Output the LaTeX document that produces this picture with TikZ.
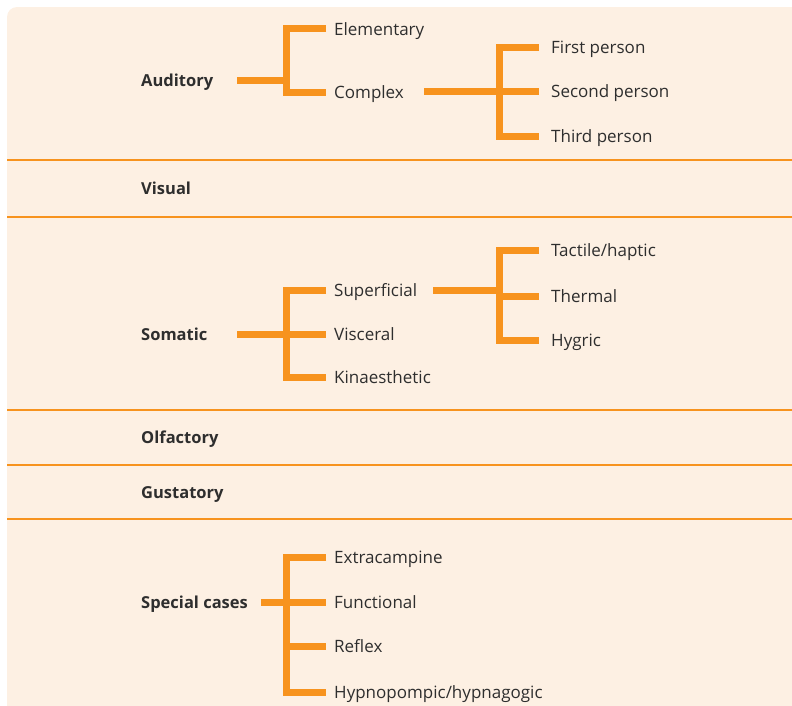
\documentclass[tikz,border=0pt]{standalone}
\usepackage{fontspec}
\setmainfont{Open Sans}
\definecolor{peach}{HTML}{FDF0E3}
\definecolor{tangerine}{HTML}{F7931E}
\definecolor{ink}{HTML}{2E2E2E}
\begin{document}
\begin{tikzpicture}[x=1pt,y=-1pt,
   head/.style={anchor=west,inner sep=0,text height=12pt,text depth=0pt,font=\fontsize{16.5}{18}\selectfont\bfseries,text=ink},
   item/.style={anchor=west,inner sep=0,text height=12pt,text depth=0pt,font=\fontsize{17}{19}\selectfont,text=ink},
   bracket/.style={draw=tangerine,line width=7pt,line join=miter},
   rule/.style={draw=tangerine,line width=1.8pt}]
   \useasboundingbox (0,0) rectangle (792,705);
   % Panel
   \clip (0,0) rectangle (792,705);
   \fill[peach,rounded corners=10pt] (7,7) rectangle (820,730);
   % Separators
   \foreach \y in {160,217,410,465,519}
      \draw[rule] (7,\y) -- (792,\y);
   % Auditory
   \node[head] (aud)  at (141,80) {Auditory};
   \node[item] (elem) at (334,29.5) {Elementary};
   \node[item] (cplx) at (334,92) {Complex};
   \node[item] (fst)  at (551,47) {First person};
   \node[item] (sec)  at (551,91.5) {Second person};
   \node[item] (thd)  at (551,136.5) {Third person};
   \coordinate (auds)  at (237,80);
   \coordinate (audj)  at (286,80);
   \coordinate (cplxs) at (424,91.5);
   \coordinate (cplxj) at (499.5,91.5);
   \draw[bracket] (auds) -- (audj);
   \draw[bracket] ([xshift=-8pt,yshift=1.5pt]elem.west) -| (audj) |- ([xshift=-8pt]cplx.west);
   \draw[bracket] (cplxs) -- ([xshift=-12pt]sec.west);
   \draw[bracket] ([xshift=-12pt]fst.west) -| (cplxj) |- ([xshift=-12pt]thd.west);
   % Visual
   \node[head] (vis) at (141,188.5) {Visual};
   % Somatic
   \node[head] (som)  at (141,334.5) {Somatic};
   \node[item] (supf) at (334,290.5) {Superficial};
   \node[item] (visc) at (334,334.5) {Visceral};
   \node[item] (kin)  at (334,377) {Kinaesthetic};
   \node[item] (tac)  at (551,250.5) {Tactile/haptic};
   \node[item] (thm)  at (551,296.5) {Thermal};
   \node[item] (hyg)  at (551,340.5) {Hygric};
   \coordinate (soms)  at (237,334.5);
   \coordinate (somj)  at (286,334.5);
   \coordinate (supfs) at (433,290);
   \coordinate (supfj) at (499.5,290);
   \draw[bracket] (soms) -- ([xshift=-8pt]visc.west);
   \draw[bracket] ([xshift=-8pt]supf.west) -| (somj) |- ([xshift=-8pt]kin.west);
   \draw[bracket] (supfs) -- (supfj);
   \draw[bracket] ([xshift=-12pt]tac.west) -| (supfj) |- ([xshift=-12pt]hyg.west);
   \draw[bracket] (supfj |- thm.west) -- ([xshift=-12pt]thm.west);
   % Olfactory, Gustatory
   \node[head] (olf) at (141,437.5) {Olfactory};
   \node[head] (gus) at (141,492.5) {Gustatory};
   % Special cases
   \node[head] (spc) at (141,602.5) {Special cases};
   \node[item] (ext) at (334,557.5) {Extracampine};
   \node[item] (fun) at (334,602.5) {Functional};
   \node[item] (rfx) at (334,646.5) {Reflex};
   \node[item] (hyp) at (334,692) {Hypnopompic/hypnagogic};
   \coordinate (spcs) at (261,602.5);
   \coordinate (spcj) at (286,602.5);
   \draw[bracket] (spcs) -- ([xshift=-8pt]fun.west);
   \draw[bracket] ([xshift=-8pt]ext.west) -| (spcj) |- ([xshift=-8pt]hyp.west);
   \draw[bracket] (spcj |- rfx.west) -- ([xshift=-8pt]rfx.west);
\end{tikzpicture}
\end{document}
